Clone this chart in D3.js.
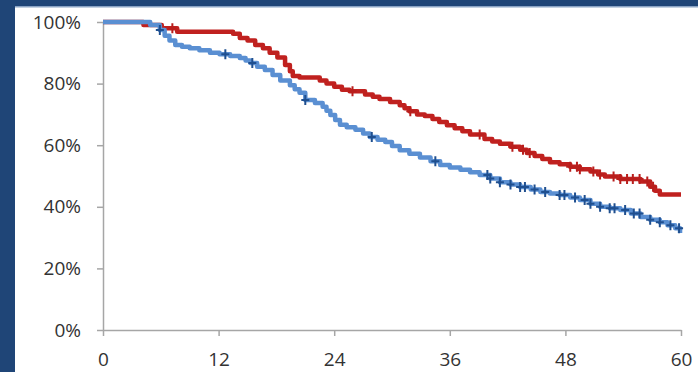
<!DOCTYPE html>
<html>
<head>
<meta charset="utf-8">
<script src="https://cdn.jsdelivr.net/npm/d3@7"></script>
<style>
  body { margin: 0; background: #1f4577; }
  svg { display: block; }
  .axis text { font-family: "Open Sans", sans-serif; font-size: 19px; fill: #333333; }
  .axis path, .axis line { stroke: #a6a6a6; stroke-width: 1.5; }
</style>
</head>
<body>
<script>
// months since start, survival fraction
var redTimes = [0, 4.2, 6.1, 7.7, 13.5, 14.2, 15.0, 15.8, 16.6, 17.3, 18.1, 18.9, 19.4, 19.7, 20.4, 22.5, 23.2, 24.0, 24.8, 25.6, 27.2, 28.0, 28.7, 29.8, 30.8, 31.3, 31.8, 32.6, 33.4, 34.2, 34.9, 35.7, 36.5, 37.3, 38.1, 39.6, 40.4, 41.2, 42.3, 43.3, 44.0, 44.8, 45.6, 46.4, 47.4, 48.5, 49.5, 50.6, 51.4, 52.1, 53.7, 55.8, 56.8, 57.3, 57.8];
var redSurv  = [1.00, 0.99, 0.98, 0.968, 0.962, 0.948, 0.94, 0.925, 0.915, 0.90, 0.885, 0.86, 0.84, 0.825, 0.82, 0.81, 0.80, 0.79, 0.78, 0.775, 0.765, 0.757, 0.75, 0.74, 0.73, 0.72, 0.71, 0.70, 0.695, 0.685, 0.675, 0.665, 0.655, 0.645, 0.635, 0.62, 0.612, 0.605, 0.595, 0.585, 0.575, 0.565, 0.555, 0.545, 0.538, 0.53, 0.522, 0.515, 0.505, 0.498, 0.49, 0.482, 0.465, 0.452, 0.44];
var blueTimes = [0, 4.9, 5.9, 6.4, 6.9, 7.5, 8.2, 9.0, 10.0, 11.1, 12.1, 13.2, 14.2, 14.8, 15.3, 16.0, 16.8, 17.6, 18.4, 19.4, 19.9, 20.4, 21.0, 22.0, 22.8, 23.2, 23.6, 24.1, 24.6, 25.3, 26.2, 27.0, 27.7, 28.5, 29.3, 30.0, 30.8, 31.8, 32.9, 34.0, 35.0, 36.0, 37.1, 38.1, 39.1, 40.2, 41.2, 42.3, 43.3, 44.4, 45.4, 46.4, 47.4, 48.5, 49.5, 50.6, 51.6, 52.6, 53.7, 54.8, 55.8, 56.8, 57.8, 58.6, 59.4, 59.9];
var blueSurv  = [1.00, 0.99, 0.974, 0.955, 0.94, 0.925, 0.92, 0.915, 0.908, 0.90, 0.895, 0.89, 0.883, 0.875, 0.867, 0.855, 0.844, 0.828, 0.81, 0.795, 0.782, 0.77, 0.747, 0.737, 0.725, 0.712, 0.698, 0.682, 0.666, 0.658, 0.65, 0.638, 0.627, 0.618, 0.61, 0.597, 0.584, 0.572, 0.56, 0.548, 0.536, 0.528, 0.52, 0.512, 0.503, 0.492, 0.48, 0.472, 0.464, 0.456, 0.448, 0.443, 0.438, 0.43, 0.422, 0.41, 0.40, 0.395, 0.39, 0.378, 0.367, 0.358, 0.35, 0.34, 0.33, 0.315];
var redCensor  = [7.2, 25.9, 31.9, 39.1, 42.5, 43.6, 44.3, 48.5, 49.2, 49.5, 50.9, 51.6, 53.0, 53.7, 54.4, 55.0, 55.7, 56.5, 57.1];
var blueCensor = [5.9, 12.7, 15.5, 21.0, 27.9, 34.5, 39.9, 40.2, 41.2, 42.3, 43.3, 43.8, 44.8, 45.9, 47.4, 47.9, 49.0, 50.0, 50.6, 51.6, 52.6, 53.1, 54.2, 55.1, 55.7, 56.8, 57.8, 58.9, 59.8];
var xTicks = [0, 12, 24, 36, 48, 60];
var yTicks = [0, 0.2, 0.4, 0.6, 0.8, 1.0];
var tEnd = 60;

var W = 698, H = 372;

var svg = d3.select("body").append("svg")
    .attr("width", W)
    .attr("height", H);

// white panel over the blue frame
svg.append("rect")
    .attr("x", 15).attr("y", 7)
    .attr("width", W - 15).attr("height", H - 7)
    .attr("fill", "#ffffff");
svg.append("rect")
    .attr("x", 15).attr("y", 6)
    .attr("width", W - 15).attr("height", 1.5)
    .attr("fill", "#8aa3c4");

var x = d3.scaleLinear().domain([0, 60]).range([103, 681]),
    y = d3.scaleLinear().domain([0, 1]).range([330, 22]);

// y axis
svg.append("g")
    .attr("class", "axis")
    .attr("transform", "translate(" + x(0) + ",0)")
    .call(d3.axisLeft(y).tickValues(yTicks).tickSize(6).tickSizeOuter(0).tickPadding(16)
      .tickFormat(d3.format(".0%")));

// x axis
svg.append("g")
    .attr("class", "axis")
    .attr("transform", "translate(0," + y(0) + ")")
    .call(d3.axisBottom(x).tickValues(xTicks).tickSize(6).tickSizeOuter(0).tickPadding(17));

var line = d3.line()
    .x(function(d) { return x(d[0]); })
    .y(function(d) { return y(d[1]); })
    .curve(d3.curveStepAfter);

function toPoints(times, surv, end) {
  var pts = times.map(function(t, i) { return [t, surv[i]]; });
  pts.push([end, surv[surv.length - 1]]);
  return pts;
}

// survival at time t (step function)
function survAt(times, surv, t) {
  var s = surv[0];
  for (var i = 0; i < times.length; i++) {
    if (times[i] <= t) s = surv[i];
  }
  return s;
}

var groups = [
  { times: redTimes, surv: redSurv, censor: redCensor, end: tEnd, line: "#c0211f", mark: "#b81e1c" },
  { times: blueTimes, surv: blueSurv, censor: blueCensor, end: 59.9, line: "#5a8fd2", mark: "#1f4f8f" }
];

groups.forEach(function(g) {
  svg.append("path")
      .attr("d", line(toPoints(g.times, g.surv, g.end)))
      .attr("fill", "none")
      .attr("stroke", g.line)
      .attr("stroke-width", 4.5)
      .attr("stroke-linejoin", "round");
});

groups.forEach(function(g) {
  svg.append("g").selectAll("path")
      .data(g.censor)
    .enter().append("path")
      .attr("d", function(t) {
        var cx = x(t), cy = y(survAt(g.times, g.surv, t));
        return "M" + (cx - 4) + "," + cy + "H" + (cx + 4) + "M" + cx + "," + (cy - 5) + "V" + (cy + 5);
      })
      .attr("stroke", g.mark)
      .attr("stroke-width", 2)
      .attr("fill", "none");
});
</script>
</body>
</html>
